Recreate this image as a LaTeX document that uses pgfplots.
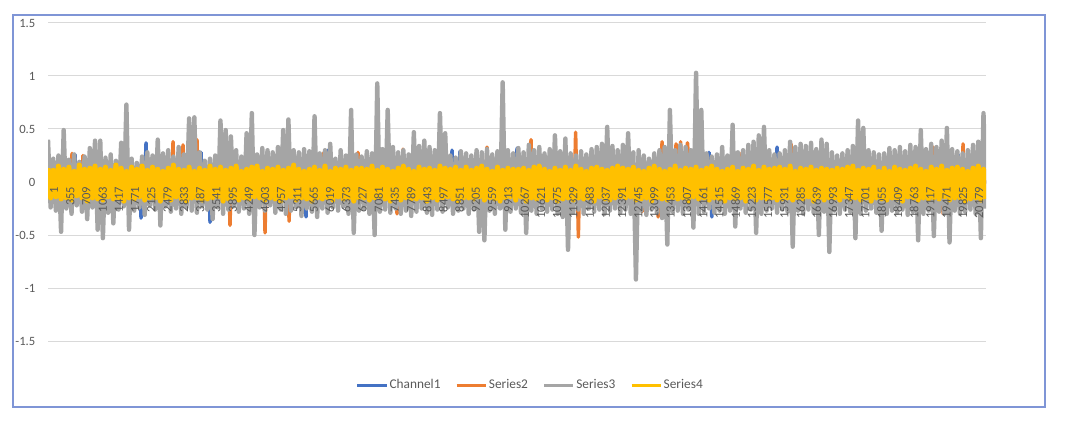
\documentclass[border=0pt]{standalone}
\usepackage{pgfplots}
\usepackage{pgfplotstable}
\pgfplotsset{compat=1.18}
\usepackage{fontspec}
\setmainfont{Carlito}
\definecolor{cBlue}{HTML}{4472C4}
\definecolor{cOrange}{HTML}{ED7D31}
\definecolor{cGray}{HTML}{A5A5A5}
\definecolor{cYellow}{HTML}{FFC000}
\definecolor{cText}{HTML}{595959}
\definecolor{cGrid}{HTML}{D9D9D9}
\definecolor{cBorder}{HTML}{7F95D6}

\pgfplotstableread[row sep=\\]{
y\\
0.40\\ -0.24\\ 0.22\\ -0.27\\ 0.25\\ -0.47\\ 0.49\\ -0.25\\ 0.21\\ -0.30\\ 0.26\\ -0.22\\ 0.19\\ -0.28\\ 0.24\\ -0.35\\ 0.32\\ -0.24\\ 0.39\\ -0.45\\
0.39\\ -0.53\\ 0.23\\ -0.29\\ 0.26\\ -0.39\\ 0.20\\ -0.26\\ 0.37\\ -0.23\\ 0.73\\ -0.45\\ 0.22\\ -0.27\\ 0.18\\ -0.24\\ 0.24\\ -0.31\\ 0.28\\ -0.22\\
0.25\\ -0.26\\ 0.40\\ -0.41\\ 0.27\\ -0.23\\ 0.30\\ -0.28\\ 0.24\\ -0.25\\ 0.33\\ -0.30\\ 0.26\\ -0.24\\ 0.60\\ -0.27\\ 0.61\\ -0.29\\ 0.28\\ -0.23\\
0.20\\ -0.26\\ 0.22\\ -0.35\\ 0.25\\ -0.24\\ 0.58\\ -0.30\\ 0.49\\ -0.26\\ 0.43\\ -0.23\\ 0.30\\ -0.28\\ 0.24\\ -0.25\\ 0.46\\ -0.30\\ 0.65\\ -0.50\\
0.26\\ -0.24\\ 0.32\\ -0.27\\ 0.30\\ -0.22\\ 0.28\\ -0.29\\ 0.33\\ -0.26\\ 0.49\\ -0.30\\ 0.59\\ -0.27\\ 0.30\\ -0.24\\ 0.28\\ -0.32\\ 0.31\\ -0.25\\
0.29\\ -0.28\\ 0.62\\ -0.33\\ 0.27\\ -0.25\\ 0.30\\ -0.29\\ 0.36\\ -0.24\\ 0.22\\ -0.27\\ 0.30\\ -0.23\\ 0.25\\ -0.30\\ 0.68\\ -0.48\\ 0.26\\ -0.27\\
0.24\\ -0.25\\ 0.29\\ -0.30\\ 0.27\\ -0.50\\ 0.93\\ -0.28\\ 0.31\\ -0.26\\ 0.68\\ -0.29\\ 0.33\\ -0.25\\ 0.28\\ -0.30\\ 0.30\\ -0.27\\ 0.26\\ -0.32\\
0.47\\ -0.28\\ 0.34\\ -0.25\\ 0.39\\ -0.29\\ 0.33\\ -0.31\\ 0.30\\ -0.26\\ 0.65\\ -0.28\\ 0.46\\ -0.24\\ 0.25\\ -0.30\\ 0.23\\ -0.27\\ 0.29\\ -0.25\\
0.27\\ -0.30\\ 0.25\\ -0.26\\ 0.30\\ -0.47\\ 0.28\\ -0.55\\ 0.31\\ -0.27\\ 0.26\\ -0.30\\ 0.29\\ -0.25\\ 0.94\\ -0.45\\ 0.30\\ -0.28\\ 0.27\\ -0.25\\
0.32\\ -0.29\\ 0.28\\ -0.48\\ 0.35\\ -0.27\\ 0.30\\ -0.30\\ 0.33\\ -0.25\\ 0.27\\ -0.28\\ 0.31\\ -0.26\\ 0.44\\ -0.30\\ 0.29\\ -0.33\\ 0.41\\ -0.64\\
0.27\\ -0.29\\ 0.25\\ -0.26\\ 0.29\\ -0.30\\ 0.26\\ -0.25\\ 0.31\\ -0.28\\ 0.33\\ -0.26\\ 0.36\\ -0.30\\ 0.52\\ -0.27\\ 0.34\\ -0.25\\ 0.30\\ -0.29\\
0.35\\ -0.26\\ 0.46\\ -0.30\\ 0.28\\ -0.92\\ 0.30\\ -0.27\\ 0.25\\ -0.31\\ 0.22\\ -0.26\\ 0.27\\ -0.29\\ 0.30\\ -0.34\\ 0.33\\ -0.59\\ 0.68\\ -0.28\\
0.30\\ -0.27\\ 0.35\\ -0.30\\ 0.33\\ -0.26\\ 0.30\\ -0.43\\ 1.03\\ -0.30\\ 0.68\\ -0.28\\ 0.27\\ -0.25\\ 0.24\\ -0.29\\ 0.26\\ -0.27\\ 0.33\\ -0.30\\
0.25\\ -0.27\\ 0.54\\ -0.42\\ 0.28\\ -0.25\\ 0.30\\ -0.29\\ 0.35\\ -0.26\\ 0.38\\ -0.48\\ 0.44\\ -0.30\\ 0.52\\ -0.27\\ 0.30\\ -0.25\\ 0.26\\ -0.29\\
0.27\\ -0.26\\ 0.30\\ -0.28\\ 0.38\\ -0.61\\ 0.33\\ -0.27\\ 0.36\\ -0.30\\ 0.34\\ -0.26\\ 0.37\\ -0.29\\ 0.31\\ -0.50\\ 0.40\\ -0.28\\ 0.36\\ -0.66\\
0.28\\ -0.27\\ 0.25\\ -0.30\\ 0.27\\ -0.26\\ 0.30\\ -0.28\\ 0.34\\ -0.53\\ 0.58\\ -0.30\\ 0.51\\ -0.27\\ 0.30\\ -0.25\\ 0.28\\ -0.29\\ 0.26\\ -0.46\\
0.27\\ -0.30\\ 0.32\\ -0.27\\ 0.30\\ -0.29\\ 0.33\\ -0.26\\ 0.29\\ -0.31\\ 0.35\\ -0.28\\ 0.33\\ -0.55\\ 0.49\\ -0.30\\ 0.31\\ -0.27\\ 0.36\\ -0.51\\
0.33\\ -0.28\\ 0.39\\ -0.30\\ 0.51\\ -0.57\\ 0.31\\ -0.27\\ 0.29\\ -0.30\\ 0.27\\ -0.28\\ 0.30\\ -0.26\\ 0.35\\ -0.30\\ 0.38\\ -0.53\\ 0.65\\ -0.25\\
}\seriesthree

\pgfplotstableread[row sep=\\]{
y\\
0.13\\ -0.15\\ 0.11\\ -0.14\\ 0.15\\ -0.16\\ 0.12\\ -0.15\\ 0.14\\ -0.17\\ 0.10\\ -0.13\\ 0.16\\ -0.15\\ 0.12\\ -0.18\\ 0.13\\ -0.15\\ 0.15\\ -0.16\\
0.12\\ -0.17\\ 0.14\\ -0.14\\ 0.11\\ -0.16\\ 0.16\\ -0.15\\ 0.13\\ -0.18\\ 0.10\\ -0.15\\ 0.14\\ -0.16\\ 0.12\\ -0.14\\ 0.15\\ -0.17\\ 0.11\\ -0.15\\
0.14\\ -0.15\\ 0.12\\ -0.18\\ 0.10\\ -0.15\\ 0.13\\ -0.17\\ 0.16\\ -0.14\\ 0.12\\ -0.16\\ 0.11\\ -0.18\\ 0.14\\ -0.15\\ 0.10\\ -0.15\\ 0.13\\ -0.17\\
0.11\\ -0.16\\ 0.15\\ -0.15\\ 0.12\\ -0.14\\ 0.14\\ -0.18\\ 0.11\\ -0.16\\ 0.13\\ -0.15\\ 0.15\\ -0.17\\ 0.10\\ -0.15\\ 0.12\\ -0.16\\ 0.14\\ -0.14\\
0.15\\ -0.15\\ 0.10\\ -0.17\\ 0.13\\ -0.15\\ 0.12\\ -0.16\\ 0.14\\ -0.18\\ 0.11\\ -0.15\\ 0.13\\ -0.14\\ 0.16\\ -0.17\\ 0.12\\ -0.15\\ 0.10\\ -0.16\\
0.12\\ -0.18\\ 0.14\\ -0.15\\ 0.11\\ -0.16\\ 0.15\\ -0.15\\ 0.10\\ -0.17\\ 0.13\\ -0.14\\ 0.12\\ -0.16\\ 0.14\\ -0.15\\ 0.11\\ -0.18\\ 0.13\\ -0.15\\
0.13\\ -0.15\\ 0.12\\ -0.17\\ 0.15\\ -0.15\\ 0.11\\ -0.14\\ 0.14\\ -0.16\\ 0.12\\ -0.18\\ 0.10\\ -0.15\\ 0.13\\ -0.17\\ 0.15\\ -0.15\\ 0.12\\ -0.16\\
0.10\\ -0.16\\ 0.14\\ -0.15\\ 0.12\\ -0.18\\ 0.13\\ -0.15\\ 0.11\\ -0.17\\ 0.15\\ -0.15\\ 0.13\\ -0.14\\ 0.12\\ -0.16\\ 0.14\\ -0.18\\ 0.11\\ -0.15\\
0.14\\ -0.15\\ 0.11\\ -0.16\\ 0.13\\ -0.14\\ 0.15\\ -0.17\\ 0.12\\ -0.15\\ 0.10\\ -0.16\\ 0.14\\ -0.18\\ 0.11\\ -0.15\\ 0.13\\ -0.14\\ 0.12\\ -0.17\\
0.12\\ -0.14\\ 0.13\\ -0.18\\ 0.11\\ -0.15\\ 0.14\\ -0.16\\ 0.15\\ -0.15\\ 0.12\\ -0.17\\ 0.10\\ -0.15\\ 0.13\\ -0.18\\ 0.11\\ -0.16\\ 0.14\\ -0.15\\
0.11\\ -0.17\\ 0.15\\ -0.15\\ 0.12\\ -0.16\\ 0.10\\ -0.15\\ 0.13\\ -0.18\\ 0.14\\ -0.14\\ 0.12\\ -0.16\\ 0.11\\ -0.17\\ 0.13\\ -0.15\\ 0.15\\ -0.14\\
0.13\\ -0.15\\ 0.12\\ -0.14\\ 0.14\\ -0.17\\ 0.11\\ -0.16\\ 0.10\\ -0.15\\ 0.13\\ -0.18\\ 0.15\\ -0.15\\ 0.12\\ -0.16\\ 0.10\\ -0.17\\ 0.12\\ -0.15\\
0.15\\ -0.16\\ 0.11\\ -0.15\\ 0.13\\ -0.18\\ 0.12\\ -0.14\\ 0.14\\ -0.16\\ 0.11\\ -0.15\\ 0.13\\ -0.17\\ 0.15\\ -0.15\\ 0.12\\ -0.16\\ 0.10\\ -0.18\\
0.12\\ -0.15\\ 0.14\\ -0.16\\ 0.10\\ -0.15\\ 0.13\\ -0.18\\ 0.12\\ -0.14\\ 0.15\\ -0.17\\ 0.11\\ -0.15\\ 0.14\\ -0.16\\ 0.12\\ -0.15\\ 0.13\\ -0.17\\
0.14\\ -0.16\\ 0.12\\ -0.15\\ 0.15\\ -0.17\\ 0.10\\ -0.15\\ 0.13\\ -0.16\\ 0.12\\ -0.14\\ 0.14\\ -0.18\\ 0.11\\ -0.15\\ 0.13\\ -0.17\\ 0.12\\ -0.15\\
0.11\\ -0.15\\ 0.13\\ -0.17\\ 0.12\\ -0.14\\ 0.14\\ -0.16\\ 0.15\\ -0.15\\ 0.11\\ -0.17\\ 0.13\\ -0.15\\ 0.12\\ -0.18\\ 0.14\\ -0.15\\ 0.10\\ -0.16\\
0.13\\ -0.17\\ 0.10\\ -0.15\\ 0.14\\ -0.16\\ 0.12\\ -0.18\\ 0.11\\ -0.14\\ 0.13\\ -0.15\\ 0.15\\ -0.17\\ 0.12\\ -0.15\\ 0.10\\ -0.16\\ 0.14\\ -0.15\\
0.12\\ -0.16\\ 0.15\\ -0.14\\ 0.11\\ -0.17\\ 0.13\\ -0.15\\ 0.14\\ -0.15\\ 0.12\\ -0.18\\ 0.10\\ -0.16\\ 0.13\\ -0.15\\ 0.15\\ -0.17\\ 0.12\\ -0.16\\
}\seriesfour

\begin{document}
\begin{tikzpicture}
\useasboundingbox (0,0) rectangle (810pt,318.75pt);
\draw[cBorder, line width=0.8pt] (9.75pt,13.5pt) rectangle (783.75pt,307.5pt);

\begin{axis}[
  at={(36pt,63pt)}, anchor=south west,
  scale only axis, width=703.5pt, height=238.5pt,
  xmin=1, xmax=20462, ymin=-1.5, ymax=1.5,
  xtick=\empty,
  ytick={-1.5,-1,-0.5,0,0.5,1,1.5},
  yticklabels={-1.5,-1,-0.5,0,0.5,1,1.5},
  ymajorgrids, grid style={cGrid, line width=0.75pt},
  axis line style={draw=none},
  major tick length=0pt,
  yticklabel style={font=\fontsize{9.5}{11}\selectfont, text=cText, xshift=-6pt},
  legend columns=4,
  legend style={at={(0.5139,-0.1384)}, anchor=center, draw=none, fill=none,
    font=\fontsize{10}{12}\selectfont, text=cText,
    nodes={inner xsep=1pt},
    /tikz/every even column/.append style={column sep=10pt},
    inner sep=0pt},
  legend image code/.code={\draw[#1, line width=2.25pt] (0pt,0pt) -- (22pt,0pt);},
  clip=true,
]
\addplot[cBlue, line width=2.6pt, line join=round] coordinates {
(1,0) (565,0) (590,0.26) (615,0) (2005,0) (2030,-0.34) (2055,0) (2114,0) (2139,0.37) (2164,0)
(3314,0) (3339,0.28) (3364,0) (3510,0) (3535,-0.38) (3560,0) (5604,0) (5629,-0.33) (5654,0)
(6084,0) (6109,0.30) (6134,0) (8789,0) (8814,0.30) (8839,0) (8963,0) (8988,0.29) (9013,0)
(10207,0) (10232,0.32) (10257,0) (14395,0) (14420,0.28) (14445,0) (14455,0) (14480,-0.33) (14505,0)
(15878,0) (15903,0.33) (15928,0) (16511,0) (16536,0.34) (16561,0) (19827,0) (19852,0.26) (19877,0)
(20045,0) (20070,0.30) (20095,0) (20462,0)
};
\addlegendentry{Channel1}
\addplot[cOrange, line width=2.6pt, line join=round] coordinates {
(1,0) (500,0) (525,0.27) (550,0) (739,0) (764,0.25) (789,0) (2703,0) (2728,0.38) (2753,0)
(2921,0) (2946,0.35) (2971,0) (3226,0) (3251,0.40) (3276,0) (3946,0) (3971,-0.41) (3996,0)
(4077,0) (4102,0.25) (4127,0) (4710,0) (4735,-0.48) (4760,0) (5146,0) (5171,0.44) (5196,0)
(5235,0) (5260,-0.37) (5285,0) (5975,0) (6000,0.27) (6025,0) (6738,0) (6763,0.28) (6788,0)
(7589,0) (7614,-0.30) (7639,0) (7720,0) (7745,0.31) (7770,0) (9552,0) (9577,0.33) (9602,0)
(10512,0) (10537,0.40) (10562,0) (11485,0) (11510,0.47) (11535,0) (11545,0) (11570,-0.52) (11595,0)
(12934,0) (12959,-0.28) (12984,0) (13283,0) (13308,-0.33) (13333,0) (13370,0) (13395,0.38) (13420,0)
(13675,0) (13700,0.36) (13760,-0.05) (13800,0.38) (13850,0) (13950,0.37) (14010,0)
(15115,0) (15140,0.28) (15165,0) (16184,0) (16209,0.36) (16234,0) (16424,0) (16449,-0.25) (16474,0)
(19281,0) (19306,0.33) (19331,0) (19500,0) (19525,-0.30) (19550,0) (19936,0) (19961,0.36) (19986,0)
(20462,0)
};
\addlegendentry{Series2}
\addplot[cGray, line width=3.3pt, line join=round] table[x expr=\coordindex*57+1, y=y] {\seriesthree};
\addlegendentry{Series3}
\addplot[cYellow, line width=3.8pt, line join=round] table[x expr=\coordindex*57+1, y=y] {\seriesfour};
\addlegendentry{Series4}
\end{axis}

\begin{axis}[
  at={(36pt,63pt)}, anchor=south west,
  scale only axis, width=703.5pt, height=238.5pt,
  xmin=1, xmax=20462, ymin=-1.5, ymax=1.5,
  axis x line=middle, axis y line=none,
  x axis line style={draw=none},
  ytick=\empty,
  xtick={1,355,...,20179},
  scaled x ticks=false,
  major tick length=0pt,
  /pgf/number format/1000 sep={},
  /pgf/number format/assume math mode=true,
  xticklabel style={rotate=90, anchor=east, font=\fontsize{9.4}{11}\selectfont, text=cText, yshift=-4.5pt},
]
\addplot[draw=none, forget plot] coordinates {(1,0)};
\end{axis}
\end{tikzpicture}
\end{document}
